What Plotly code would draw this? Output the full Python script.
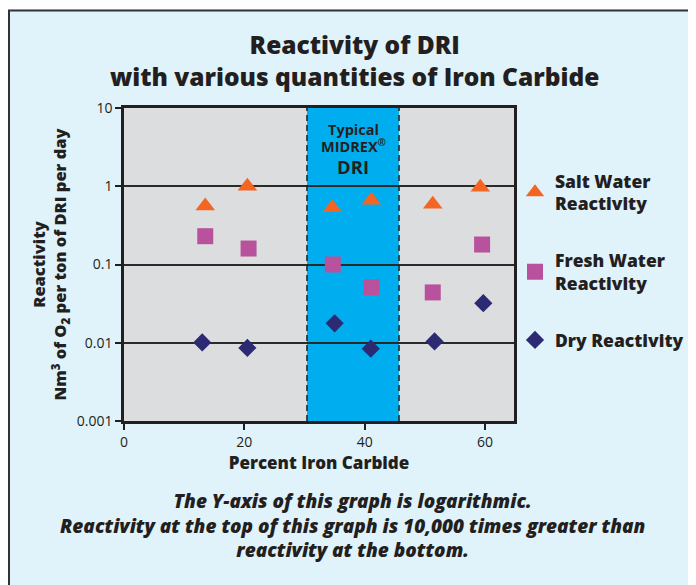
import plotly.graph_objects as go

# ---- data ----
pct_salt = [13.5, 20.5, 34.6, 41.1, 51.3, 59.2]
salt_water = [0.56, 1.0, 0.53, 0.66, 0.59, 0.97]

pct_fresh = [13.5, 20.7, 34.7, 41.1, 51.3, 59.5]
fresh_water = [0.23, 0.16, 0.10, 0.051, 0.044, 0.18]

pct_dry = [13.0, 20.5, 35.0, 41.0, 51.6, 59.7]
dry = [0.0101, 0.0086, 0.0177, 0.0084, 0.0104, 0.032]

typical_band = [30.4, 45.7]

x_ticks = [0, 20, 40, 60]
y_ticks = [0.001, 0.01, 0.1, 1, 10]
y_ticklabels = ["0.001", "0.01", "0.1", "1", "10"]

# ---- style ----
FONT = "Open Sans"
DARK = "#231f20"
W, H = 696, 585
OFF = 8  # page body margin
# plot area in page pixels
PL, PR, PT, PB = 124, 514, 108, 421
L, R, T, B = PL - OFF, PR - OFF, PT - OFF, PB - OFF


def xp(px):
    return (px - PL) / (PR - PL)


def yp(py):
    return (PB - py) / (PB - PT)


fig = go.Figure()

fig.add_trace(go.Scatter(
    x=pct_salt, y=salt_water, mode="markers", name="Salt Water<br>Reactivity",
    legendgroup="a",
    marker=dict(symbol="triangle-up", size=17, color="#f26522", line=dict(width=0)),
))
fig.add_trace(go.Scatter(
    x=pct_fresh, y=fresh_water, mode="markers", name="Fresh Water<br>Reactivity",
    legendgroup="b",
    marker=dict(symbol="square", size=16, color="#b9529c", line=dict(width=0)),
))
fig.add_trace(go.Scatter(
    x=pct_dry, y=dry, mode="markers", name="Dry Reactivity",
    legendgroup="c",
    marker=dict(symbol="diamond", size=14, color="#2b2a73", line=dict(width=0)),
))

shapes = [
    dict(type="rect", xref="x", yref="paper", x0=typical_band[0], x1=typical_band[1],
         y0=0, y1=1, fillcolor="#00aeef", line=dict(width=0), layer="below"),
    dict(type="line", xref="x", yref="paper", x0=typical_band[0], x1=typical_band[0],
         y0=0, y1=1, line=dict(color=DARK, width=1.5, dash="6px,4px"), layer="above"),
    dict(type="line", xref="x", yref="paper", x0=typical_band[1], x1=typical_band[1],
         y0=0, y1=1, line=dict(color=DARK, width=1.5, dash="6px,4px"), layer="above"),
    # white strip above the frame
    dict(type="rect", xref="paper", yref="paper", x0=-0.5, x1=1.6, y0=yp(9.5), y1=yp(-20),
         fillcolor="white", line=dict(width=0), layer="above"),
    # frame
    dict(type="line", xref="paper", yref="paper", x0=xp(8), x1=1.6, y0=yp(10.5), y1=yp(10.5),
         line=dict(color="#333333", width=2), layer="above"),
    dict(type="line", xref="paper", yref="paper", x0=xp(9), x1=xp(9), y0=yp(10), y1=-0.7,
         line=dict(color="#333333", width=2), layer="above"),
]

annotations = [
    dict(text="Reactivity of DRI<br>with various quantities of Iron Carbide",
         xref="paper", yref="paper", x=xp(354), y=yp(61), showarrow=False,
         font=dict(family=FONT, size=24.5, color=DARK, weight=800),
         xanchor="center", yanchor="middle"),
    dict(text="Typical", xref="x", yref="paper", x=sum(typical_band) / 2, y=yp(129),
         showarrow=False, font=dict(family=FONT, size=14.5, color=DARK, weight="bold"),
         xanchor="center", yanchor="middle"),
    dict(text="MIDREX<sup>®</sup>", xref="x", yref="paper", x=sum(typical_band) / 2, y=yp(145),
         showarrow=False, font=dict(family=FONT, size=14.5, color=DARK, weight="bold"),
         xanchor="center", yanchor="middle"),
    dict(text="DRI", xref="x", yref="paper", x=sum(typical_band) / 2, y=yp(166),
         showarrow=False, font=dict(family=FONT, size=18.5, color=DARK, weight="bold"),
         xanchor="center", yanchor="middle"),
    dict(text="The Y-axis of this graph is logarithmic.<br>"
              "Reactivity at the top of this graph is 10,000 times greater than<br>"
              "reactivity at the bottom.",
         xref="paper", yref="paper", x=xp(352), y=yp(525), showarrow=False,
         font=dict(family=FONT, size=19, color=DARK, weight=800, style="italic"),
         xanchor="center", yanchor="middle"),
]

fig.update_layout(
    width=W, height=H, autosize=False,
    margin=dict(l=L, r=W - R, t=T, b=H - B, pad=0),
    paper_bgcolor="#e0f2fa",
    plot_bgcolor="#dcddde",
    shapes=shapes,
    annotations=annotations,
    showlegend=True,
    legend=dict(
        x=xp(515), y=yp(163), xanchor="left", yanchor="top",
        xref="paper", yref="paper",
        bgcolor="rgba(0,0,0,0)",
        font=dict(family=FONT, size=17.5, color=DARK, weight=800),
        tracegroupgap=31, traceorder="grouped", itemsizing="trace",
        valign="middle",
    ),
    xaxis=dict(
        range=[0, 64.8], tickvals=x_ticks, showgrid=False, zeroline=False,
        showline=True, linecolor=DARK, linewidth=2.5, mirror=True,
        ticks="outside", ticklen=6, tickwidth=2, tickcolor=DARK,
        tickfont=dict(family=FONT, size=14, color=DARK),
        title=dict(text="Percent Iron Carbide", standoff=7,
                   font=dict(family=FONT, size=17, color=DARK, weight=800)),
    ),
    yaxis=dict(
        type="log", range=[-3, 1], tickvals=y_ticks, ticktext=y_ticklabels,
        showgrid=True, gridcolor="#2a2a2a", gridwidth=1.5, zeroline=False,
        showline=True, linecolor=DARK, linewidth=2.5, mirror=True,
        ticks="outside", ticklen=6, tickwidth=2, tickcolor=DARK,
        tickfont=dict(family=FONT, size=14, color=DARK),
        title=dict(text="Reactivity<br>Nm<sup>3</sup> of O<sub>2</sub> per ton of DRI per day",
                   standoff=6,
                   font=dict(family=FONT, size=16.5, color=DARK, weight=800)),
    ),
)

fig.write_html("out.html")
